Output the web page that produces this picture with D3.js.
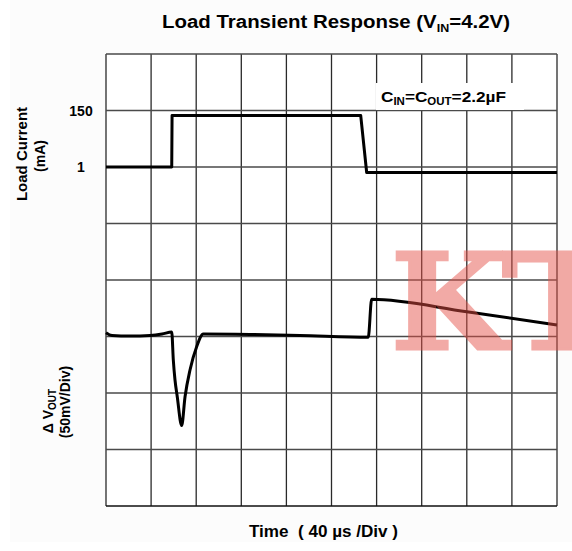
<!DOCTYPE html>
<html>
<head>
<meta charset="utf-8">
<script src="https://cdn.jsdelivr.net/npm/d3@7"></script>
<style>
  body { margin: 0; background: #fff; }
  text { font-family: "Liberation Sans", Arial, sans-serif; font-weight: bold; fill: #000; }
</style>
</head>
<body>
<div id="viz"></div>
<script>
// time in us, 40 us per division
var timeTicks = [0, 40, 80, 120, 160, 200, 240, 280, 320, 360, 400];
// vertical divisions of the screen
var divTicks = [0, 1, 2, 3, 4, 5, 6, 7, 8];

// load current trace (mA)
var currentTicks = [1, 150];
var currentT = [0, 58.3, 58.6, 225.9, 231.2, 400];
var currentMA = [1, 1, 137, 137, -13.5, -13.5];

// output voltage deviation trace (mV, 50 mV/div)
var voutT = [0, 5.3, 21.3, 39, 49.7, 58.3, 59.7, 61.2, 63.2, 67.1, 70.1, 74.5, 80.4, 86.3, 127.7, 172, 232.6, 235.6, 320, 400];
var voutMV = [3.4, 0.9, 0.4, 0.9, 2.2, 4.0, -20.8, -38.5, -53.3, -78.8, -53.3, -29.6, -9.0, 2.2, 1.8, 0.9, -0.7, 32.9, 21.9, 10.2];

var width = 572,
    height = 551;

var plot = { left: 106, right: 557, top: 54, bottom: 506 };

var x = d3.scaleLinear().domain([0, 400]).range([plot.left, plot.right]);
var yDiv = d3.scaleLinear().domain([0, 8]).range([plot.bottom, plot.top]);
// 1 mA sits on division 6, 150 mA on division 7
var yCur = d3.scaleLinear().domain([1, 150]).range([yDiv(6), yDiv(7)]);
// 0 mV on division 3, 50 mV per division
var yV = d3.scaleLinear().domain([-150, 250]).range([plot.bottom, plot.top]);

var svg = d3.select("#viz").append("svg")
    .attr("width", width)
    .attr("height", height);

svg.append("rect")
    .attr("x", 10).attr("y", 0)
    .attr("width", width - 10).attr("height", 542)
    .style("fill", "#fcfcfc");

svg.append("rect")
    .attr("x", plot.left).attr("y", plot.top)
    .attr("width", plot.right - plot.left).attr("height", plot.bottom - plot.top)
    .style("fill", "#fff");

// Grid
svg.append("g").selectAll("line")
    .data(timeTicks)
    .join("line")
    .attr("x1", d => x(d)).attr("x2", d => x(d))
    .attr("y1", plot.top).attr("y2", plot.bottom)
    .style("stroke", "#2a2a2a")
    .style("stroke-width", 1.3);

svg.append("g").selectAll("line")
    .data(divTicks)
    .join("line")
    .attr("x1", plot.left).attr("x2", plot.right)
    .attr("y1", d => yDiv(d)).attr("y2", d => yDiv(d))
    .style("stroke", d => d === 0 ? "#111" : "#4a4a4a")
    .style("stroke-width", d => d === 0 ? 1.5 : 1.6);

// Cap note box
var note = svg.append("g");
note.append("rect")
    .attr("x", 376).attr("y", 83)
    .attr("width", 148).attr("height", 27)
    .style("fill", "#fff");
var noteText = note.append("text")
    .attr("x", 381).attr("y", 102)
    .attr("textLength", 125)
    .attr("lengthAdjust", "spacingAndGlyphs")
    .style("font-size", "15px");
noteText.append("tspan").text("C");
noteText.append("tspan").text("IN").attr("dy", 3).style("font-size", "10px");
noteText.append("tspan").text("=C").attr("dy", -3);
noteText.append("tspan").text("OUT").attr("dy", 3).style("font-size", "10px");
noteText.append("tspan").text("=2.2µF").attr("dy", -3);

// Traces
svg.append("path")
    .datum(d3.zip(currentT, currentMA))
    .attr("d", d3.line().x(d => x(d[0])).y(d => yCur(d[1])))
    .style("fill", "none")
    .style("stroke", "#000")
    .style("stroke-width", 3)
    .style("stroke-linejoin", "round");

svg.append("path")
    .datum(d3.zip(voutT, voutMV))
    .attr("d", d3.line().curve(d3.curveMonotoneX).x(d => x(d[0])).y(d => yV(d[1])))
    .style("fill", "none")
    .style("stroke", "#000")
    .style("stroke-width", 3)
    .style("stroke-linejoin", "round");

// Current tick labels
svg.append("g").selectAll("text")
    .data(currentTicks)
    .join("text")
    .attr("x", 81)
    .attr("y", d => yCur(d) + 5)
    .attr("text-anchor", "middle")
    .style("font-size", "14px")
    .text(d => d);

// Title
var title = svg.append("text")
    .attr("x", 162).attr("y", 28)
    .attr("textLength", 348)
    .attr("lengthAdjust", "spacingAndGlyphs")
    .style("font-size", "18px");
title.append("tspan").text("Load Transient Response (V");
title.append("tspan").text("IN").attr("dy", 4).style("font-size", "11px");
title.append("tspan").text("=4.2V)").attr("dy", -4);

// Axis labels
svg.append("text")
    .attr("transform", "translate(27,154) rotate(-90)")
    .attr("text-anchor", "middle")
    .style("font-size", "15px")
    .text("Load Current");
svg.append("text")
    .attr("transform", "translate(45,156) rotate(-90)")
    .attr("text-anchor", "middle")
    .style("font-size", "14px")
    .text("(mA)");

var dv = svg.append("text")
    .attr("transform", "translate(53,411) rotate(-90)")
    .attr("text-anchor", "middle")
    .style("font-size", "14px");
dv.append("tspan").text("Δ V");
dv.append("tspan").text("OUT").attr("dy", 3).style("font-size", "10px");
svg.append("text")
    .attr("transform", "translate(70,402) rotate(-90)")
    .attr("text-anchor", "middle")
    .style("font-size", "14px")
    .text("(50mV/Div)");

svg.append("text")
    .attr("x", 249).attr("y", 537)
    .attr("textLength", 149)
    .attr("lengthAdjust", "spacingAndGlyphs")
    .style("font-size", "16px")
    .attr("xml:space", "preserve")
    .text("Time  ( 40 µs /Div )");

// Watermark
var mark = svg.append("g")
    .style("opacity", 0.48);
mark.append("text")
    .attr("x", 391).attr("y", 349)
    .style("font-family", "'DejaVu Serif', serif")
    .style("font-size", "133px")
    .style("fill", "rgb(230,80,70)")
    .style("stroke", "rgb(230,80,70)")
    .style("stroke-width", 3)
    .text("K");
mark.append("text")
    .attr("transform", "translate(502,349) scale(1.3,1)")
    .style("font-family", "'DejaVu Serif', serif")
    .style("font-size", "133px")
    .style("fill", "rgb(230,80,70)")
    .style("stroke", "rgb(230,80,70)")
    .style("stroke-width", 3)
    .text("T");
</script>
</body>
</html>
